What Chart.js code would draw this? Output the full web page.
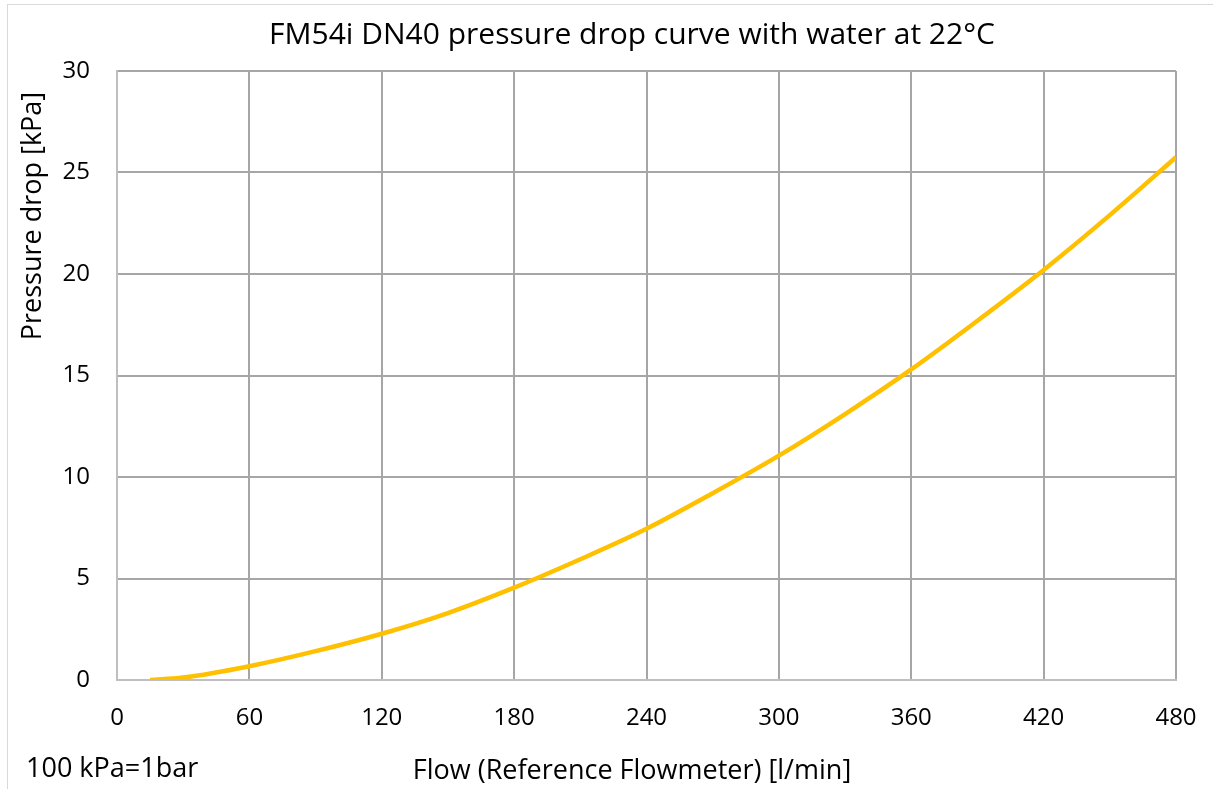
<!DOCTYPE html>
<html>
<head>
<meta charset="utf-8">
<script src="https://cdn.jsdelivr.net/npm/chart.js@4"></script>
<style>
  html, body { margin: 0; padding: 0; background: #fff; overflow: hidden; }
  #wrap { width: 1213px; height: 789px; }
  canvas { display: block; }
</style>
</head>
<body>
<div id="wrap"><canvas id="chart" width="1213" height="789"></canvas></div>
<script>
// flow in l/min, pressure drop in kPa
const flow = [15, 30, 60, 90, 120, 150, 180, 210, 240, 270, 300, 330, 360, 390, 420, 450, 480];
const pressureDrop = [0, 0.12, 0.68, 1.42, 2.28, 3.3, 4.55, 5.95, 7.45, 9.2, 11.05, 13.1, 15.3, 17.7, 20.2, 22.9, 25.75];
const xTicks = [0, 60, 120, 180, 240, 300, 360, 420, 480];
const yTicks = [0, 5, 10, 15, 20, 25, 30];

const titleText = 'FM54i DN40 pressure drop curve with water at 22°C';
const yTitle = 'Pressure drop [kPa]';
const xTitle = 'Flow (Reference Flowmeter) [l/min]';
const noteText = '100 kPa=1bar';

const FONT = '"Open Sans", "Noto Sans", sans-serif';

// texts placed like in the excel chart (not centred on the plot)
const labelsPlugin = {
  id: 'labels',
  beforeDraw(chart) {
    const ctx = chart.ctx;
    ctx.save();
    ctx.strokeStyle = '#d9d9d9';
    ctx.lineWidth = 1;
    ctx.strokeRect(7.5, 4.5, 1230, 810);
    ctx.restore();
  },
  afterDraw(chart) {
    const ctx = chart.ctx;
    ctx.save();
    ctx.fillStyle = '#000';
    ctx.textBaseline = 'middle';
    ctx.textAlign = 'center';
    ctx.font = '30px ' + FONT;
    ctx.fillText(titleText, 632, 35);

    ctx.font = '27px ' + FONT;
    ctx.fillText(xTitle, 632, 771);
    ctx.textAlign = 'left';
    ctx.fillText(noteText, 26, 769);

    ctx.translate(33, 216);
    ctx.rotate(-Math.PI / 2);
    ctx.textAlign = 'center';
    ctx.fillText(yTitle, 0, 0);
    ctx.restore();
  }
};

const points = flow.map((f, i) => ({ x: f, y: pressureDrop[i] }));

new Chart(document.getElementById('chart'), {
  type: 'line',
  data: {
    datasets: [{
      data: points,
      borderColor: '#FFC000',
      backgroundColor: '#FFC000',
      borderWidth: 4.5,
      pointRadius: 0,
      cubicInterpolationMode: 'monotone',
      fill: false
    }]
  },
  options: {
    responsive: false,
    animation: false,
    layout: { padding: { left: 0, top: 71, right: 37, bottom: 0 } },
    plugins: {
      legend: { display: false },
      title: { display: false },
      tooltip: { enabled: false }
    },
    scales: {
      x: {
        type: 'linear',
        min: 0,
        max: 480,
        afterFit: (scale) => {
          scale.height = 109;
          scale.paddingLeft = 0;
          scale.paddingRight = 0;
        },
        afterBuildTicks: (scale) => { scale.ticks = xTicks.map(v => ({ value: v })); },
        grid: { color: '#a6a6a6', lineWidth: 2, drawTicks: false },
        border: { color: '#bfbfbf', width: 2 },
        ticks: {
          color: '#000',
          font: { family: FONT, size: 24 },
          padding: 24,
          maxRotation: 0
        }
      },
      y: {
        min: 0,
        max: 30,
        afterFit: (scale) => {
          scale.width = 117;
          scale.paddingTop = 0;
          scale.paddingBottom = 0;
        },
        afterBuildTicks: (scale) => { scale.ticks = yTicks.map(v => ({ value: v })); },
        grid: { color: '#a6a6a6', lineWidth: 2, drawTicks: false },
        border: { color: '#bfbfbf', width: 2 },
        ticks: {
          color: '#000',
          font: { family: FONT, size: 24 },
          padding: 27
        }
      }
    }
  },
  plugins: [labelsPlugin]
});
</script>
</body>
</html>
